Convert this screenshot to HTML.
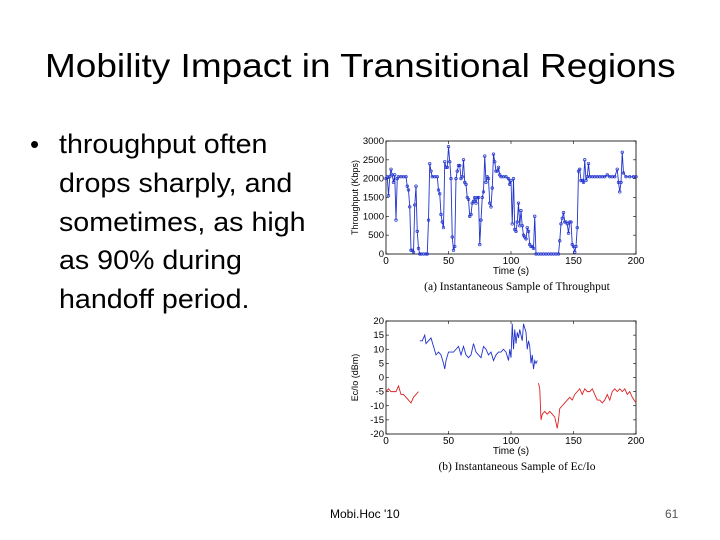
<!DOCTYPE html>
<html><head><meta charset="utf-8"><style>
body{margin:0;width:720px;height:540px;background:#fff;position:relative;overflow:hidden;font-family:"Liberation Sans",sans-serif;}
.t{position:absolute;white-space:nowrap;color:#000;}
.b{transform-origin:0 50%;transform:scaleX(1.06);font-size:27px;}
</style></head><body>
<div class="t" style="left:45px;top:47px;font-size:33px;transform-origin:0 50%;transform:scaleX(1.12);">Mobility Impact in Transitional Regions</div>
<div>
<div class="t" style="left:30px;top:129px;font-size:26px;">•</div>
<div class="t b" style="left:59px;top:129px;">throughput often</div>
<div class="t b" style="left:59px;top:168px;">drops sharply, and</div>
<div class="t b" style="left:59px;top:207px;">sometimes, as high</div>
<div class="t b" style="left:59px;top:245px;">as 90% during</div>
<div class="t b" style="left:59px;top:284px;">handoff period.</div>
</div>
<div class="t" style="left:330px;top:507px;font-size:12px;">Mobi.Hoc '10</div>
<div class="t" style="left:665px;top:507px;font-size:12px;color:#555;">61</div>
<svg id="svg" width="720" height="540" style="position:absolute;left:0;top:0"></svg>
<script>
const tpTimes=[0,1,2,3,4,5,6,7,8,9,10,12,14,16,17,18,19,20,21,22,23,24,25,26,27,28,30,32,33,34,35,36,37,39,41,42,43,44,45,46,47,48,49,50,51,52,53,54,55,56,57,58,59,60,61,62,63,64,65,66,67,68,69,70,71,72,73,74,75,76,77,78,79,80,81,82,83,84,85,86,87,88,89,90,91,92,94,96,98,99,100,101,102,103,104,105,106,107,108,109,110,111,112,113,114,115,116,117,118,119,120,122,124,126,128,130,132,134,136,138,139,140,141,142,143,144,145,146,147,148,149,150,151,152,153,154,155,156,157,158,159,160,161,162,163,165,167,169,171,173,175,177,179,181,183,185,186,187,188,189,190,192,195,198,200];
const tpValues=[2000,2050,1550,2050,2250,2100,1900,2100,900,2000,2050,2050,2050,2050,1800,1700,1250,100,100,50,1300,1800,600,150,0,0,0,0,0,900,2400,2200,2050,2050,2050,1700,1600,1050,850,700,2450,2300,2300,2850,2450,2000,450,100,200,2000,2200,2350,2350,2000,2050,2500,1900,1850,1500,1450,1000,1050,1350,1400,1500,1350,1500,1500,250,900,1500,1650,2600,1900,2050,2000,1350,1250,1750,2650,2450,2200,2200,2300,2100,2050,2050,2050,2000,1850,1950,800,2000,650,600,850,1350,750,1150,750,500,450,400,700,600,250,200,200,150,1000,0,0,0,0,0,0,0,0,0,0,350,800,950,1100,850,850,800,550,850,850,250,200,50,200,700,2200,2250,1950,1950,1900,2500,1950,2050,2400,2050,2050,2050,2050,2050,2050,2050,2100,2050,2050,2050,2250,1900,1650,1900,2700,2150,2050,2050,2050,2050];
const tpTicksX=[0,50,100,150,200];
const tpTicksY=[0,500,1000,1500,2000,2500,3000];
const blueTimes=[27,29,31,32,34,36,38,40,42,44,46,47,48,50,52,54,56,58,60,62,64,66,68,70,72,74,76,78,80,82,84,86,88,90,92,94,96,98,99,100,101,102,103,104,105,106,107,108,109,110,112,113,114,115,116,117,118,119,120,121];
const blueValues=[13,13,15,12,13,14,11,8,9,8,5,3,6,9,9,9,10,11,8,11,8,7,8,12,9,8,7,11,10,8,9,6,8,9,9,10,9,6,10,7,19,10,17,12,16,14,17,15,13,19,16,10,13,11,5,8,3,6,5,6];
const redTimes=[0,2,4,6,8,10,12,14,16,18,20,22,24,26,122,123,124,125,127,129,131,133,135,137,138,139,141,143,145,147,149,151,153,155,157,159,161,163,165,167,169,171,173,175,177,179,181,183,185,187,189,191,193,195,197,200];
const redValues=[-5,-4,-5,-5,-5,-3,-6,-6,-7,-8,-9,-7,-6,-5,-2,-4,-15,-13,-12,-13,-12,-13,-14,-18,-15,-11,-10,-9,-8,-7,-8,-6,-5,-4,-6,-4,-5,-5,-4,-6,-8,-8,-9,-8,-6,-8,-5,-4,-5,-4,-5,-4,-6,-5,-7,-9];
const ecTicksY=[-20,-15,-10,-5,0,5,10,15,20];
const svg=document.getElementById('svg');const NS='http://www.w3.org/2000/svg';
function mk(t,a,p){const e=document.createElementNS(NS,t);for(const k in a)e.setAttribute(k,a[k]);(p||svg).appendChild(e);return e;}
function chart(top,ymin,ymax,yticks,ylabel,caption,name){
  const L=386,R=636,T=top,B=top+113;
  const g=mk('g',{});
  
  
  const x=v=>L+(v-0)/200*(R-L), y=v=>B-(v-ymin)/(ymax-ymin)*(B-T);
  const box=mk('rect',{x:L,y:T,width:R-L,height:B-T,fill:'none',stroke:'#000','stroke-width':0.8},g);
  
  
  tpTicksX.forEach(v=>{mk('line',{x1:x(v),x2:x(v),y1:B,y2:B-3,stroke:'#000','stroke-width':0.6},g);mk('line',{x1:x(v),x2:x(v),y1:T,y2:T+3,stroke:'#000','stroke-width':0.6},g);
    const t=mk('text',{x:x(v),y:B+10,'font-size':10,'text-anchor':'middle','font-family':'Liberation Sans'},g);t.textContent=v;
    
    });
  yticks.forEach(v=>{mk('line',{x1:L,x2:L+3,y1:y(v),y2:y(v),stroke:'#000','stroke-width':0.6},g);mk('line',{x1:R,x2:R-3,y1:y(v),y2:y(v),stroke:'#000','stroke-width':0.6},g);
    const t=mk('text',{x:L-2,y:y(v)+3,'font-size':9.5,'text-anchor':'end','font-family':'Liberation Sans'},g);t.textContent=v;
    
    });
  const xt=mk('text',{x:(L+R)/2,y:B+20,'font-size':10,'text-anchor':'middle','font-family':'Liberation Sans'},g);xt.textContent='Time (s)';
  
  
  const yt=mk('text',{x:0,y:0,'font-size':9,'text-anchor':'middle','font-family':'Liberation Sans',transform:`translate(${L-28},${(T+B)/2}) rotate(-90)`},g);yt.textContent=ylabel;
  
  
  const cp=mk('text',{x:(L+R)/2+6,y:B+36,'font-size':11.5,'text-anchor':'middle','font-family':'Liberation Serif'},g);cp.textContent=caption;
  
  
  return {g,x,y};
}
const c1=chart(141,0,3000,tpTicksY,'Throughput (Kbps)','(a) Instantaneous Sample of Throughput','throughput-chart');
const p1=mk('polyline',{points:tpTimes.map((t,i)=>c1.x(t)+','+c1.y(tpValues[i])).join(' '),fill:'none',stroke:'#2233cc','stroke-width':0.9},c1.g);


tpTimes.forEach((t,i)=>{const c=mk('circle',{cx:c1.x(t),cy:c1.y(tpValues[i]),r:1.3,fill:'none',stroke:'#2233cc','stroke-width':0.7},c1.g);

});
const c2=chart(321,-20,20,ecTicksY,'Ec/Io (dBm)','(b) Instantaneous Sample of Ec/Io','ecio-chart');
const p2=mk('polyline',{points:blueTimes.map((t,i)=>c2.x(t)+','+c2.y(blueValues[i])).join(' '),fill:'none',stroke:'#2233cc','stroke-width':0.9},c2.g);


[[0,14],[14,redTimes.length]].forEach(([a,b])=>{const p=mk('polyline',{points:redTimes.slice(a,b).map((t,i)=>c2.x(t)+','+c2.y(redValues[a+i])).join(' '),fill:'none',stroke:'#dd2222','stroke-width':0.9},c2.g);

});
</script>
</body></html>
